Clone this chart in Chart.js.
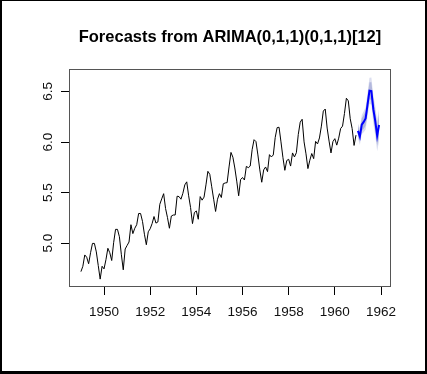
<!DOCTYPE html>
<html>
<head>
<meta charset="utf-8">
<script src="https://cdn.jsdelivr.net/npm/chart.js@4/dist/chart.umd.min.js"></script>
<style>
  html, body { margin: 0; padding: 0; background: #fff; }
</style>
</head>
<body>
<canvas id="chart" width="427" height="374"></canvas>
<script>
var titleText = 'Forecasts from ARIMA(0,1,1)(0,1,1)[12]';
var startYear = 1949;
var forecastStart = 1961;
var freq = 12;

// log monthly passengers, 1949 - 1960
var observed = [
  4.718, 4.771, 4.883, 4.860, 4.796, 4.905, 4.997, 4.997, 4.913, 4.779, 4.644, 4.771,
  4.745, 4.836, 4.949, 4.905, 4.828, 5.004, 5.136, 5.136, 5.063, 4.890, 4.736, 4.942,
  4.977, 5.011, 5.182, 5.094, 5.147, 5.182, 5.293, 5.293, 5.215, 5.088, 4.984, 5.112,
  5.142, 5.193, 5.263, 5.198, 5.209, 5.384, 5.438, 5.489, 5.342, 5.252, 5.147, 5.268,
  5.278, 5.278, 5.464, 5.460, 5.434, 5.493, 5.576, 5.606, 5.468, 5.352, 5.193, 5.303,
  5.318, 5.236, 5.460, 5.425, 5.455, 5.576, 5.710, 5.680, 5.557, 5.434, 5.313, 5.434,
  5.489, 5.451, 5.587, 5.595, 5.598, 5.753, 5.897, 5.849, 5.743, 5.613, 5.468, 5.628,
  5.649, 5.624, 5.759, 5.746, 5.762, 5.924, 6.023, 6.004, 5.872, 5.724, 5.602, 5.724,
  5.753, 5.707, 5.875, 5.852, 5.872, 6.045, 6.142, 6.146, 6.001, 5.849, 5.720, 5.817,
  5.829, 5.762, 5.892, 5.852, 5.894, 6.075, 6.196, 6.225, 6.001, 5.883, 5.737, 5.820,
  5.886, 5.835, 6.006, 5.981, 6.040, 6.157, 6.306, 6.326, 6.138, 6.009, 5.892, 6.004,
  6.033, 5.969, 6.038, 6.133, 6.157, 6.282, 6.433, 6.407, 6.230, 6.133, 5.966, 6.068
];

// 1961 forecast and intervals
var fcMean = [6.110, 6.054, 6.172, 6.199, 6.233, 6.369, 6.507, 6.503, 6.325, 6.209, 6.063, 6.168];
var lo80 = [6.063, 5.999, 6.110, 6.131, 6.160, 6.290, 6.424, 6.415, 6.233, 6.112, 5.962, 6.063];
var hi80 = [6.157, 6.109, 6.234, 6.267, 6.306, 6.448, 6.590, 6.591, 6.417, 6.306, 6.164, 6.273];
var lo95 = [6.038, 5.970, 6.078, 6.096, 6.121, 6.249, 6.379, 6.368, 6.184, 6.061, 5.909, 6.008];
var hi95 = [6.182, 6.138, 6.266, 6.303, 6.345, 6.489, 6.635, 6.638, 6.466, 6.357, 6.217, 6.328];

var xTicks = [1950, 1952, 1954, 1956, 1958, 1960, 1962];
var yTicks = [5.0, 5.5, 6.0, 6.5];

var fontFamily = "'Liberation Sans', Arial, sans-serif";

function toPoints(vals, start) {
    return vals.map(function (v, i) { return { x: start + i / freq, y: v }; });
}

function band(label, vals, fill, color, order) {
    return {
        label: label,
        data: toPoints(vals, forecastStart),
        borderWidth: 0,
        pointRadius: 0,
        fill: fill,
        backgroundColor: color,
        order: order
    };
}

var boxPlugin = {
    id: 'box',
    afterDraw: function (chart) {
        var ctx = chart.ctx, a = chart.chartArea;
        ctx.save();
        ctx.strokeStyle = '#555';
        ctx.lineWidth = 1;
        ctx.strokeRect(Math.round(a.left) + 0.5, Math.round(a.top) + 0.5,
            Math.round(a.right - a.left) - 1, Math.round(a.bottom - a.top) - 1);
        // outer frame of the picture
        ctx.fillStyle = '#000';
        ctx.fillRect(0, 0, 2, 374);
        ctx.fillRect(0, 0, 427, 1);
        ctx.fillRect(425, 0, 2, 374);
        ctx.fillRect(0, 371, 427, 3);
        ctx.restore();
    }
};

new Chart(document.getElementById('chart'), {
    type: 'line',
    data: {
        datasets: [
            band('lo95', lo95, false, 'transparent', 5),
            band('hi95', hi95, '-1', '#dcdff0', 4),
            band('lo80', lo80, false, 'transparent', 3),
            band('hi80', hi80, '-1', '#b3b8dd', 2),
            {
                label: 'forecast',
                data: toPoints(fcMean, forecastStart),
                borderColor: '#0000ff',
                borderWidth: 2,
                pointRadius: 0,
                fill: false,
                order: 1
            },
            {
                label: 'observed',
                data: toPoints(observed, startYear),
                borderColor: '#000',
                borderWidth: 1,
                pointRadius: 0,
                fill: false,
                order: 0
            }
        ]
    },
    options: {
        responsive: false,
        animation: false,
        devicePixelRatio: 1,
        layout: { padding: { left: 33, right: 0, top: 0, bottom: 0 } },
        plugins: {
            legend: { display: false },
            tooltip: { enabled: false },
            title: {
                display: true,
                text: titleText,
                color: '#000',
                font: { family: fontFamily, size: 16.5, weight: 'bold' },
                padding: { top: 27.6, bottom: 21.6 }
            }
        },
        scales: {
            x: {
                type: 'linear',
                min: 1948.483,
                max: 1962.433,
                afterBuildTicks: function (s) { s.ticks = xTicks.map(function (v) { return { value: v }; }); },
                afterFit: function (s) { s.height = 87; },
                grid: { drawOnChartArea: false, drawTicks: true, tickLength: 8, tickColor: '#000' },
                border: { display: false },
                ticks: {
                    padding: 9,
                    color: '#111',
                    autoSkip: false,
                    maxRotation: 0,
                    font: { family: fontFamily, size: 13.5 },
                    callback: function (v) { return String(v); }
                }
            },
            y: {
                type: 'linear',
                min: 4.566,
                max: 6.722,
                afterBuildTicks: function (s) { s.ticks = yTicks.map(function (v) { return { value: v }; }); },
                afterFit: function (s) { s.width = 36; },
                grid: { drawOnChartArea: false, drawTicks: true, tickLength: 8, tickColor: '#000' },
                border: { display: false },
                ticks: {
                    padding: 3,
                    color: '#111',
                    minRotation: 90,
                    maxRotation: 90,
                    crossAlign: 'center',
                    font: { family: fontFamily, size: 13.5 },
                    callback: function (v) { return v.toFixed(1); }
                }
            },
            yRight: {
                type: 'linear',
                position: 'right',
                min: 0,
                max: 1,
                afterFit: function (s) { s.width = 36; },
                grid: { display: false },
                border: { display: false },
                ticks: { display: false }
            }
        }
    },
    plugins: [boxPlugin]
});
</script>
</body>
</html>
